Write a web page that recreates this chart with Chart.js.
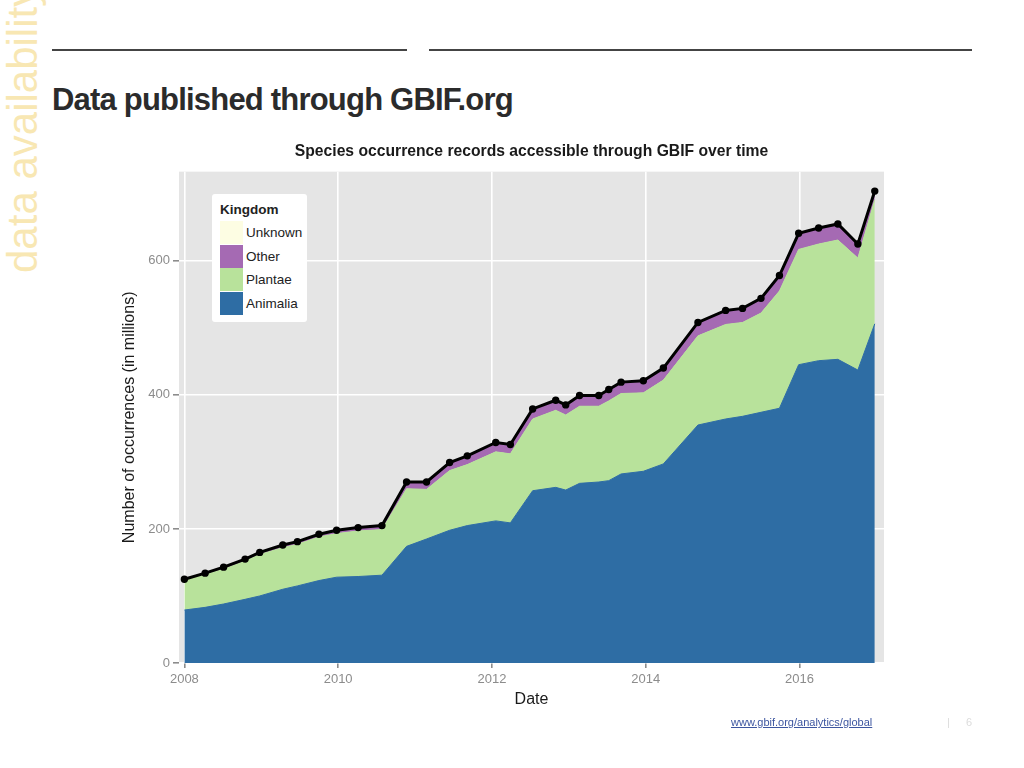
<!DOCTYPE html>
<html>
<head>
<meta charset="utf-8">
<title>Data published through GBIF.org</title>
<script src="https://cdn.jsdelivr.net/npm/chart.js@4.4.0/dist/chart.umd.min.js"></script>
<style>
  body { margin: 0; width: 1024px; height: 768px; background: #fff; position: relative; overflow: hidden;
         font-family: "Liberation Sans", Arial, sans-serif; }
  .side { position: absolute; left: 2px; top: 273px; transform-origin: 0 0; transform: rotate(-90deg);
          font-size: 42px; line-height: 42px; color: #f8e7b3; white-space: nowrap; }
  .rule { position: absolute; top: 49px; height: 2px; background: #444; }
  h1 { position: absolute; left: 52px; top: 84px; margin: 0; font-size: 31px; line-height: 31px;
       letter-spacing: -0.8px; font-weight: bold; color: #2b2b2b; white-space: nowrap; }
  #chartBox { position: absolute; left: 100px; top: 130px; width: 800px; height: 590px; }
  #legend { position: absolute; left: 212px; top: 194px; width: 95px; height: 128px; background: #fff;
            border-radius: 3px; box-sizing: border-box; padding: 8px 0 0 8px; }
  #legend .ttl { font-weight: bold; font-size: 13.5px; line-height: 15px; color: #222; margin-bottom: 4px; }
  #legend .row { height: 23.5px; display: flex; align-items: center; }
  #legend .sw { width: 23px; height: 23px; margin-right: 3px; }
  #legend .lbl { font-size: 13.5px; color: #222; }
  .link { position: absolute; left: 731px; top: 716px; font-size: 11px; color: #3d56a0; text-decoration: underline; }
  .pg { position: absolute; top: 716px; font-size: 11px; color: #dcdcdc; }
</style>
</head>
<body>
<div class="side">data availability</div>
<div class="rule" style="left:52px; width:355px;"></div>
<div class="rule" style="left:429px; width:543px;"></div>
<h1>Data published through GBIF.org</h1>
<div id="chartBox"><canvas id="gbifChart"></canvas></div>
<div id="legend"></div>
<div class="link">www.gbif.org/analytics/global</div>
<div class="pg" style="left:947px;">|</div>
<div class="pg" style="left:966px;">6</div>

<script>
// dates as decimal years
const dates = [2008.0, 2008.27, 2008.51, 2008.79, 2008.98, 2009.28, 2009.47, 2009.75, 2009.98, 2010.26,
               2010.57, 2010.89, 2011.15, 2011.45, 2011.68, 2012.05, 2012.24, 2012.53, 2012.83, 2012.96,
               2013.14, 2013.39, 2013.52, 2013.68, 2013.97, 2014.23, 2014.68, 2015.04, 2015.26, 2015.5,
               2015.74, 2015.99, 2016.25, 2016.5, 2016.76, 2016.98];

// records in millions, per kingdom
const animalia = [79, 83, 88, 95, 100, 110, 115, 123, 128, 129, 131, 174, 185, 198, 205, 212, 209, 257,
                  262, 258, 268, 270, 272, 282, 286, 297, 355, 364, 368, 374, 380, 445, 451, 453, 437, 506];
const plantae = [44, 49, 52, 57, 62, 62, 62, 65, 65, 68, 68, 86, 74, 89, 91, 103, 103, 107,
                 115, 112, 115, 113, 119, 120, 117, 125, 133, 141, 140, 148, 175, 172, 174, 178, 167, 185];
const other = [1, 1, 1.5, 2, 2, 2.5, 3, 3, 4, 4, 5, 9, 10, 11, 12, 13, 13, 14,
               14, 14, 15, 15, 16, 16, 17, 17, 19, 20, 20, 21, 22, 23, 23, 23, 20, 12];
const unknown = [1, 1, 1, 1, 1, 1, 1, 1, 1, 1, 1, 1, 1, 1, 1, 1, 1, 1,
                 1, 1, 1, 1, 1, 1, 1, 1, 1, 1, 1, 1, 1, 1, 1, 1, 1, 1];
// total line (black)
const total = [125, 134, 143, 155, 165, 176, 181, 192, 198, 202, 205, 270, 270, 299, 309, 329, 326, 379,
               392, 385, 399, 399, 408, 419, 421, 440, 508, 526, 529, 544, 578, 641, 649, 655, 625, 704];

const kingdoms = ['Animalia', 'Plantae', 'Other', 'Unknown'];
const kingdomColors = ['#2e6da4', '#b8e29b', '#a56ab3', '#fdfde3'];
const xTicks = [2008, 2010, 2012, 2014, 2016];
const yTicks = [0, 200, 400, 600];

const series = [animalia, plantae, other, unknown];
const toPoints = arr => dates.map((d, i) => ({ x: d, y: arr[i] }));

// legend (top entry = top of stack)
const legend = document.getElementById('legend');
legend.innerHTML = '<div class="ttl">Kingdom</div>';
for (let i = kingdoms.length - 1; i >= 0; i--) {
    legend.innerHTML += '<div class="row"><div class="sw" style="background:' + kingdomColors[i] +
        '"></div><div class="lbl">' + kingdoms[i] + '</div></div>';
}

// grey panel behind the plot, title centred over the panel (like ggplot)
const panelBg = {
    id: 'panelBg',
    afterLayout(chart) {
        if (chart.titleBlock) {
            chart.titleBlock.left = chart.chartArea.left;
            chart.titleBlock.right = chart.chartArea.right;
        }
    },
    beforeDraw(chart) {
        const a = chart.chartArea;
        const c = chart.ctx;
        c.save();
        c.fillStyle = '#e5e5e5';
        c.fillRect(a.left, a.top, a.right - a.left, a.bottom - a.top);
        c.restore();
    }
};

const datasets = series.map((arr, i) => ({
    label: kingdoms[i],
    data: toPoints(arr),
    backgroundColor: kingdomColors[i],
    borderColor: kingdomColors[i],
    borderWidth: 1,
    pointRadius: 0,
    tension: 0,
    fill: i === 0 ? 'origin' : '-1',
    stack: 'kingdoms',
    order: 1
}));
datasets.push({
    label: 'Total',
    data: toPoints(total),
    borderColor: '#000',
    backgroundColor: '#000',
    borderWidth: 3,
    pointRadius: 2.2,
    pointBackgroundColor: '#000',
    tension: 0,
    fill: false,
    stack: 'total',
    order: 0
});

const fontFam = '"Liberation Sans", Arial, sans-serif';

new Chart(document.getElementById('gbifChart'), {
    type: 'line',
    data: { datasets: datasets },
    plugins: [panelBg],
    options: {
        responsive: true,
        maintainAspectRatio: false,
        animation: false,
        layout: { padding: { left: 0, right: 16, top: 0, bottom: 0 } },
        plugins: {
            legend: { display: false },
            tooltip: { enabled: false },
            title: {
                display: true,
                text: 'Species occurrence records accessible through GBIF over time',
                color: '#1a1a1a',
                font: { family: fontFam, size: 15.7, weight: 'bold' },
                padding: { top: 12, bottom: 10.8 }
            }
        },
        scales: {
            x: {
                type: 'linear',
                min: 2007.93,
                max: 2017.1,
                afterBuildTicks: s => { s.ticks = xTicks.map(v => ({ value: v })); },
                afterFit: s => { s.height = 57; },
                ticks: {
                    color: '#8c8c8c',
                    font: { family: fontFam, size: 13 },
                    padding: 4,
                    maxRotation: 0,
                    callback: v => String(v)
                },
                grid: { color: '#ffffff', lineWidth: 1.6, tickColor: '#8c8c8c', tickLength: 5 },
                border: { display: false },
                title: {
                    display: true,
                    text: 'Date',
                    color: '#1a1a1a',
                    font: { family: fontFam, size: 16 },
                    padding: { top: 0, bottom: 10.5 }
                }
            },
            y: {
                stacked: true,
                min: 0,
                max: 733,
                afterBuildTicks: s => { s.ticks = yTicks.map(v => ({ value: v })); },
                afterFit: s => { s.width = 79; },
                ticks: {
                    color: '#8c8c8c',
                    font: { family: fontFam, size: 13 },
                    padding: 3,
                    callback: v => String(v)
                },
                grid: { color: '#ffffff', lineWidth: 1.6, tickColor: '#8c8c8c', tickLength: 6 },
                border: { display: false },
                title: {
                    display: true,
                    text: 'Number of occurrences (in millions)',
                    color: '#1a1a1a',
                    font: { family: fontFam, size: 16 },
                    padding: { top: 20, bottom: 4 }
                }
            }
        }
    }
});
</script>
</body>
</html>
